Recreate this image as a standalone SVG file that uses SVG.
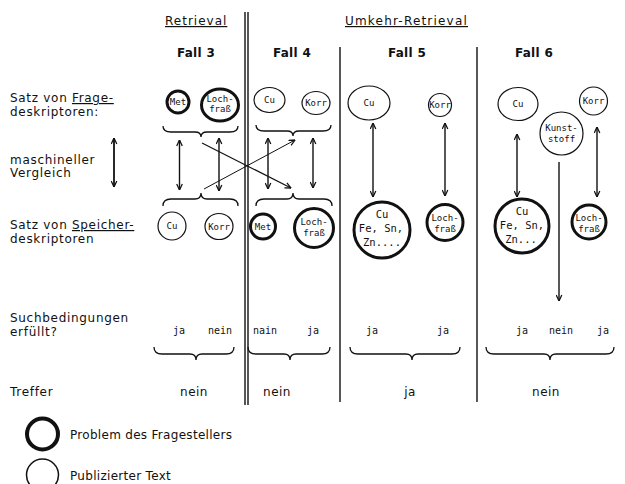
<svg xmlns="http://www.w3.org/2000/svg" width="625" height="484" viewBox="0 0 625 484">
<style>
 text{font-family:"DejaVu Sans","Liberation Sans",sans-serif;fill:#111}
 .lbl{font-size:12px;letter-spacing:0.7px}
 .hd{font-size:12px;letter-spacing:1px;text-decoration:underline}
 .fall{font-size:12px;font-weight:bold;letter-spacing:0.3px;text-anchor:middle}
 .ct{font-family:"DejaVu Sans Mono","Liberation Mono",monospace;font-size:9px;text-anchor:middle}
 .cb{font-family:"DejaVu Sans Mono","Liberation Mono",monospace;font-size:10.5px;text-anchor:middle}
 .yn{font-family:"DejaVu Sans Mono","Liberation Mono",monospace;font-size:10px;text-anchor:middle}
 .tr{font-size:12px;text-anchor:middle;letter-spacing:0.5px}
 .thick{fill:#fff;stroke:#111;stroke-width:3}
 .thin{fill:#fff;stroke:#111;stroke-width:1.2}
 .div{stroke:#111;stroke-width:1.4}
 .arr{stroke:#111;stroke-width:1.4;fill:none;marker-start:url(#ah);marker-end:url(#ah)}
 .one{stroke:#111;stroke-width:1.2;fill:none;marker-end:url(#ah)}
 .brace{fill:none;stroke:#111;stroke-width:1.3}
</style>
<defs>
 <marker id="ah" viewBox="0 0 10 10" refX="9.5" refY="5" markerWidth="7" markerHeight="7" markerUnits="userSpaceOnUse" orient="auto-start-reverse">
  <path d="M1,1 L9.5,5 L1,9" fill="none" stroke="#111" stroke-width="1.8"/>
 </marker>
</defs>

<g id="headers">
 <text class="hd" x="165" y="25">Retrieval</text>
 <text class="hd" x="345" y="25" style="letter-spacing:1.2px">Umkehr-Retrieval</text>
 <text class="fall" x="196" y="57">Fall 3</text>
 <text class="fall" x="292" y="57">Fall 4</text>
 <text class="fall" x="407" y="57">Fall 5</text>
 <text class="fall" x="534" y="57">Fall 6</text>
</g>

<g id="dividers">
 <line class="div" x1="245" y1="12" x2="245" y2="405"/>
 <line class="div" x1="248" y1="12" x2="248" y2="405"/>
 <line class="div" x1="340" y1="47" x2="340" y2="402"/>
 <line class="div" x1="477" y1="47" x2="477" y2="402"/>
</g>

<g id="row-labels">
 <text class="lbl" x="10" y="102">Satz von <tspan text-decoration="underline">Frage-</tspan></text>
 <text class="lbl" x="10" y="116">deskriptoren:</text>
 <text class="lbl" x="10" y="164">maschineller</text>
 <text class="lbl" x="10" y="177">Vergleich</text>
 <text class="lbl" x="10" y="229">Satz von <tspan text-decoration="underline">Speicher-</tspan></text>
 <text class="lbl" x="10" y="243">deskriptoren</text>
 <text class="lbl" x="10" y="322">Suchbedingungen</text>
 <text class="lbl" x="10" y="336">erfüllt?</text>
 <text class="lbl" x="10" y="396">Treffer</text>
</g>

<g id="q-met"><circle class="thick" cx="178" cy="102" r="11"/><text class="ct" x="178" y="105">Met</text></g>
<g id="q-lochfrass-3"><ellipse class="thick" cx="220" cy="105" rx="18.5" ry="16"/><text class="ct" x="220" y="102" font-size="8.5">Loch-</text><text class="ct" x="220" y="112" font-size="8.5">fraß</text></g>
<g id="q-cu-4"><ellipse class="thin" cx="269.5" cy="100" rx="15.5" ry="12.5"/><text class="ct" x="269.5" y="103">Cu</text></g>
<g id="q-korr-4"><ellipse class="thin" cx="316" cy="103" rx="14" ry="11.5"/><text class="ct" x="316" y="106">Korr</text></g>
<g id="q-cu-5"><ellipse class="thin" cx="369" cy="103" rx="21" ry="17"/><text class="ct" x="369" y="106">Cu</text></g>
<g id="q-korr-5"><circle class="thin" cx="440" cy="105" r="11.5"/><text class="ct" x="440" y="108">Korr</text></g>
<g id="q-cu-6"><ellipse class="thin" cx="518" cy="104" rx="20" ry="16.5"/><text class="ct" x="518" y="107">Cu</text></g>
<g id="q-korr-6"><circle class="thin" cx="593.5" cy="101" r="14"/><text class="ct" x="593.5" y="104">Korr</text></g>
<g id="q-kunststoff"><circle class="thin" cx="561.5" cy="133.5" r="21.5"/><text class="ct" x="561.5" y="131" font-size="10">Kunst-</text><text class="ct" x="561.5" y="142" font-size="10">stoff</text></g>

<g id="s-cu-3"><circle class="thin" cx="172" cy="226" r="14"/><text class="ct" x="172" y="229">Cu</text></g>
<g id="s-korr-3"><ellipse class="thin" cx="219" cy="226.5" rx="14" ry="13"/><text class="ct" x="219" y="229.5">Korr</text></g>
<g id="s-met-4"><circle class="thick" cx="263" cy="226.5" r="12.5"/><text class="ct" x="263" y="229.5">Met</text></g>
<g id="s-lochfrass-4"><circle class="thick" cx="314" cy="228" r="19.5"/><text class="ct" x="314" y="225" font-size="8.5">Loch-</text><text class="ct" x="314" y="236" font-size="8.5">fraß</text></g>
<g id="s-metals-5"><circle class="thick" cx="382" cy="230" r="28"/><text class="cb" x="382" y="218">Cu</text><text class="cb" x="381" y="232">Fe, Sn,</text><text class="cb" x="382" y="246">Zn....</text></g>
<g id="s-lochfrass-5"><circle class="thick" cx="445" cy="222.5" r="18"/><text class="ct" x="445" y="221" font-size="8.5">Loch-</text><text class="ct" x="445" y="232" font-size="8.5">fraß</text></g>
<g id="s-metals-6"><circle class="thick" cx="522" cy="226" r="27"/><text class="cb" x="522" y="215">Cu</text><text class="cb" x="522" y="229">Fe, Sn,</text><text class="cb" x="521" y="243">Zn...</text></g>
<g id="s-lochfrass-6"><circle class="thick" cx="589" cy="222" r="17"/><text class="ct" x="589" y="221" font-size="8.5">Loch-</text><text class="ct" x="589" y="232" font-size="8.5">fraß</text></g>

<g id="connectors">
 <line class="arr" x1="114" y1="138" x2="114" y2="187" style="stroke-width:1.8"/>
 <line class="arr" x1="179.5" y1="140" x2="179.5" y2="190"/>
 <line class="arr" x1="219" y1="138" x2="219" y2="191"/>
 <line class="arr" x1="268" y1="138" x2="268" y2="189"/>
 <line class="arr" x1="313" y1="138" x2="313" y2="188"/>
 <line class="one" x1="202" y1="143" x2="291" y2="188"/>
 <line class="one" x1="204" y1="189" x2="295" y2="140" style="stroke-width:1"/>
 <line class="arr" x1="373" y1="123" x2="373" y2="197"/>
 <line class="arr" x1="445" y1="123" x2="445" y2="196"/>
 <line class="arr" x1="517" y1="134" x2="517" y2="197"/>
 <line class="arr" x1="597" y1="127" x2="597" y2="197"/>
 <line class="one" x1="559" y1="162" x2="559" y2="301" style="stroke-width:1.4"/>
 <path class="brace" d="M163 126 Q163 132 171 132 L195 132 Q201 132 201 137 Q201 132 207 132 L230 132 Q238 132 238 126"/>
 <path class="brace" d="M256 125 Q256 131 264 131 L287 131 Q293 131 293 136 Q293 131 299 131 L323 131 Q331 131 331 125"/>
 <path class="brace" d="M163 206 Q163 199 171 199 L195 199 Q201 199 201 193 Q201 199 207 199 L230 199 Q238 199 238 206"/>
 <path class="brace" d="M256 206 Q256 199 264 199 L287 199 Q293 199 293 193 Q293 199 299 199 L324 199 Q332 199 332 206"/>
 <path class="brace" d="M154 347 Q154 354 162 354 L190 354 Q196 354 196 360 Q196 354 202 354 L226 354 Q234 354 234 347"/>
 <path class="brace" d="M248 347 Q248 354 256 354 L284 354 Q290 354 290 360 Q290 354 296 354 L322 354 Q330 354 330 347"/>
 <path class="brace" d="M350 347 Q350 354 358 354 L406 354 Q412 354 412 360 Q412 354 418 354 L452 354 Q460 354 460 347"/>
 <path class="brace" d="M486 347 Q486 354 494 354 L544 354 Q550 354 550 360 Q550 354 556 354 L606 354 Q614 354 614 347"/>
</g>

<g id="conditions">
 <text class="yn" x="179" y="334">ja</text>
 <text class="yn" x="220" y="334">nein</text>
 <text class="yn" x="265" y="334">nain</text>
 <text class="yn" x="313" y="334">ja</text>
 <text class="yn" x="372" y="334">ja</text>
 <text class="yn" x="443" y="334">ja</text>
 <text class="yn" x="522" y="334">ja</text>
 <text class="yn" x="561" y="334">nein</text>
 <text class="yn" x="603" y="334">ja</text>
</g>

<g id="hits">
 <text class="tr" x="194" y="396">nein</text>
 <text class="tr" x="277" y="396">nein</text>
 <text class="tr" x="410" y="396">ja</text>
 <text class="tr" x="546" y="396">nein</text>
</g>

<g id="legend">
 <circle cx="42.5" cy="434" r="15.5" fill="none" stroke="#111" stroke-width="4"/>
 <text class="lbl" x="70" y="439" style="letter-spacing:0.3px">Problem des Fragestellers</text>
 <circle cx="42.5" cy="475" r="16" fill="none" stroke="#111" stroke-width="1.5"/>
 <text class="lbl" x="70" y="480" style="letter-spacing:0.3px">Publizierter Text</text>
</g>
</svg>
